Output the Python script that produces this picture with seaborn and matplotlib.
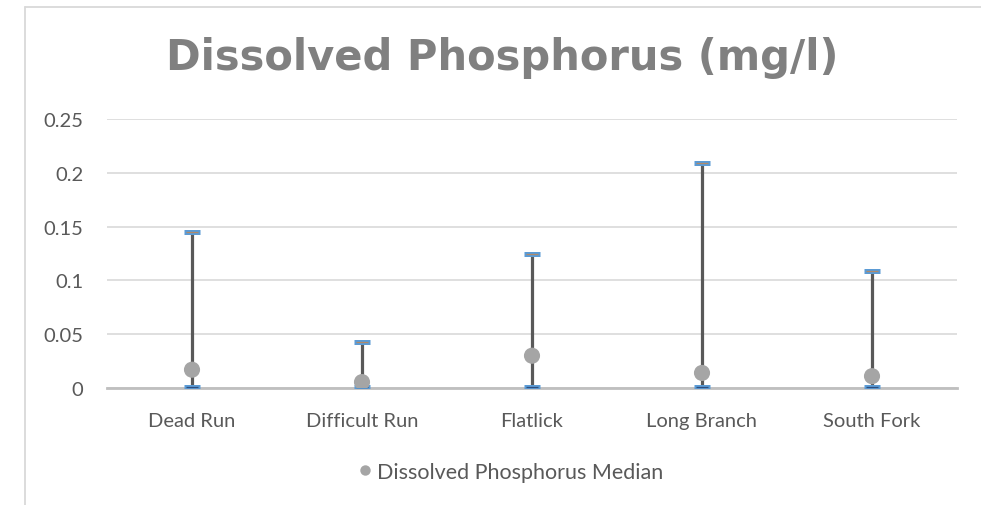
import matplotlib
matplotlib.use("Agg")
import matplotlib.pyplot as plt
import seaborn as sns
import pandas as pd
from matplotlib.lines import Line2D

categories = ["Dead Run", "Difficult Run", "Flatlick", "Long Branch", "South Fork"]
high_values = [0.145, 0.043, 0.125, 0.209, 0.109]
low_values = [0.0005, 0.0005, 0.001, 0.0005, 0.0005]
median_values = [0.017, 0.0055, 0.030, 0.014, 0.011]
y_ticks = [0, 0.05, 0.1, 0.15, 0.2, 0.25]
y_tick_labels = ["0", "0.05", "0.1", "0.15", "0.2", "0.25"]
title_text = "Dissolved Phosphorus (mg/l)"
legend_label = "Dissolved Phosphorus Median"

df = pd.DataFrame({"site": categories, "high": high_values,
                   "low": low_values, "median": median_values})

sns.set_theme(style="white")
plt.rcParams["font.family"] = ["Lato", "DejaVu Sans"]

W, H = 981, 506
fig = plt.figure(figsize=(W / 100, H / 100), dpi=100)
ax = fig.add_axes([107 / W, 1 - 389 / H, (957 - 107) / W, (389 - 120) / H])

text_col = "#595959"
x = list(range(len(categories)))

# high-low lines
ax.vlines(x, df["low"], df["high"], color="#595959", lw=2.3, zorder=3)
# caps
for ys, inner in ((df["high"], "#b08a6a"), (df["low"], "#2e4e7e")):
    ax.plot(x, ys, linestyle="none", marker="_", markersize=11,
            markeredgewidth=3.6, color="#5b9bd5", zorder=4)
    ax.plot(x, ys, linestyle="none", marker="_", markersize=8,
            markeredgewidth=0.9, color=inner, zorder=5)

# medians
sns.scatterplot(data=df.assign(pos=x), x="pos", y="median", ax=ax,
                color="#a5a5a5", s=135, edgecolor="none", zorder=6,
                legend=False)

ax.set_xlim(-0.5, len(categories) - 0.5)
ax.set_ylim(0, 0.25)
ax.set_yticks(y_ticks)
ax.set_yticklabels(y_tick_labels)
ax.set_xticks(x)
ax.set_xticklabels(categories)
ax.set_xlabel("")
ax.set_ylabel("")
ax.grid(axis="y", color="#d9d9d9", lw=1.2, zorder=0)
ax.grid(axis="x", visible=False)
for s in ("left", "right", "top"):
    ax.spines[s].set_visible(False)
ax.spines["bottom"].set_color("#bfbfbf")
ax.spines["bottom"].set_linewidth(2)
ax.spines["bottom"].set_zorder(2)
ax.tick_params(axis="x", length=0, pad=17, labelsize=14.5, labelcolor=text_col)
ax.tick_params(axis="y", length=0, pad=17, labelsize=14.5, labelcolor=text_col)

fig.text(502 / W, 1 - 58 / H, title_text, ha="center", va="center",
         fontsize=30, fontweight="bold", color="#808080",
         family=["DejaVu Sans"])

handle = Line2D([], [], linestyle="none", marker="o", markersize=7.5,
                markerfacecolor="#a5a5a5", markeredgecolor="none")
fig.legend([handle], [legend_label], loc="center",
           bbox_to_anchor=(509 / W, 1 - 473 / H), frameon=False,
           fontsize=15.5, labelcolor=text_col, handletextpad=0.05,
           handlelength=1.0)

# chart border (top and left visible)
fig.add_artist(Line2D([25 / W, 1], [1 - 8 / H, 1 - 8 / H], color="#d9d9d9", lw=1.3))
fig.add_artist(Line2D([25 / W, 25 / W], [1 - 8 / H, 0], color="#d9d9d9", lw=1.3))

fig.savefig("out.png", dpi=100, facecolor="white")
